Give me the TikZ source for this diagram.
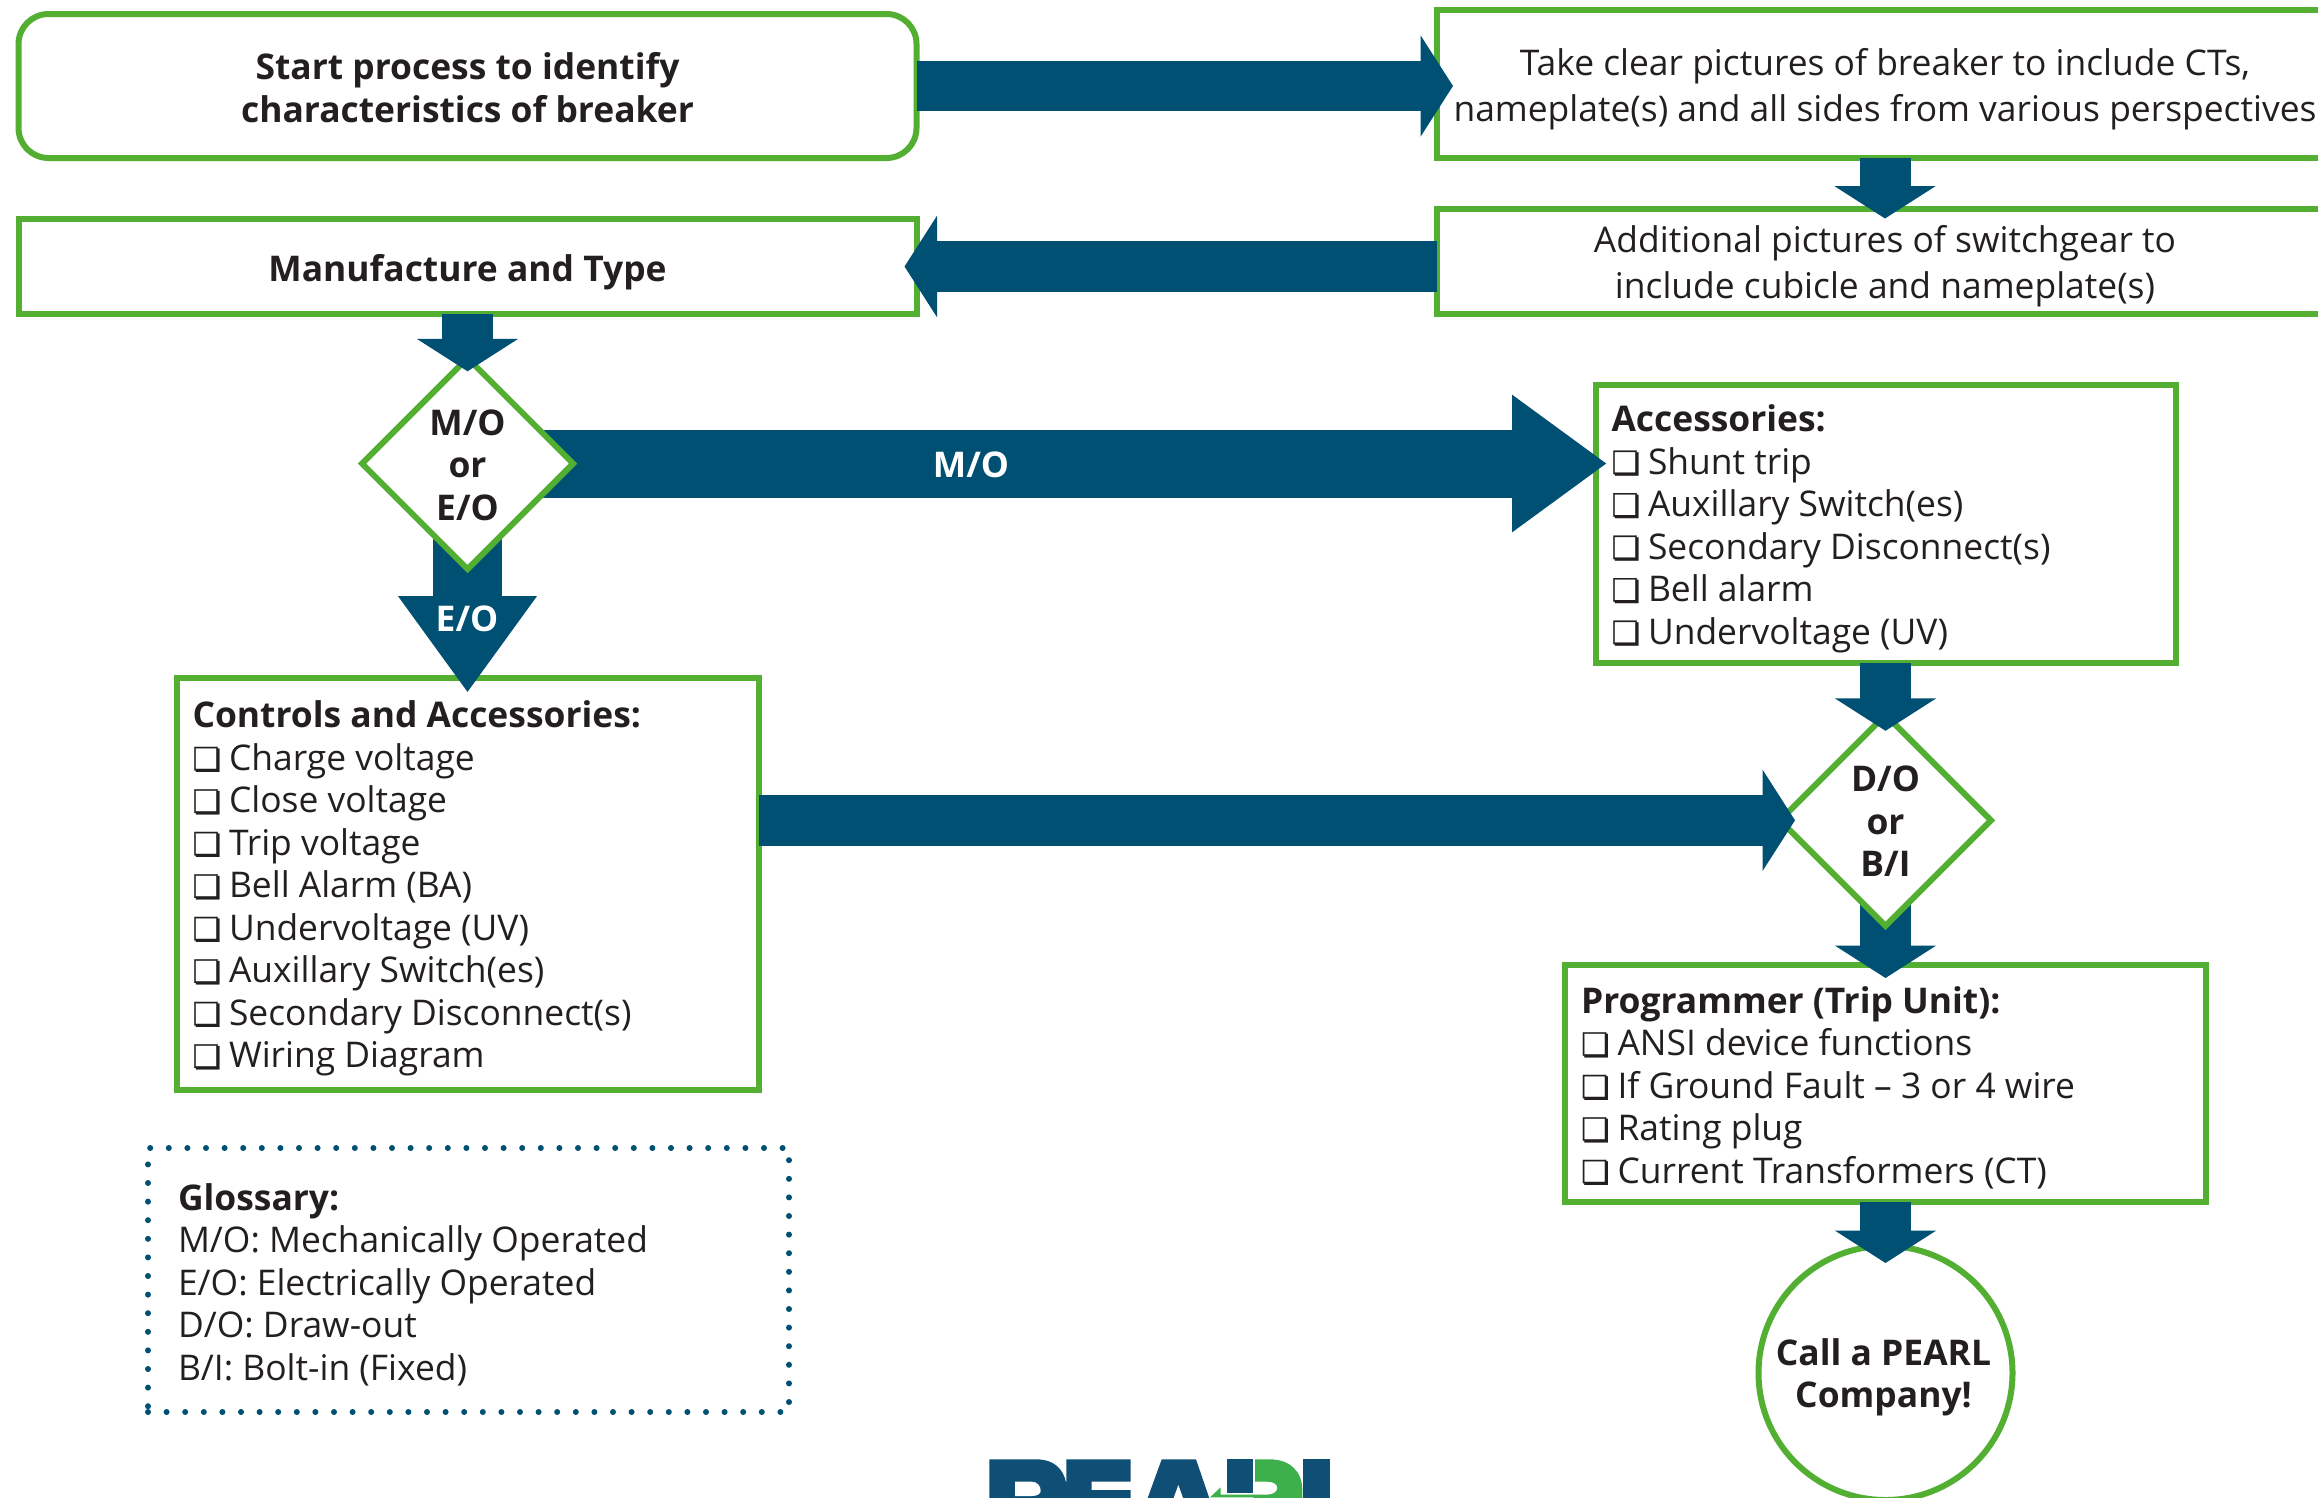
\documentclass[tikz,border=0pt]{standalone}
\usepackage{fontspec}
\setmainfont{Open Sans}
\newfontfamily\symfont[FakeBold=0.8]{DejaVu Sans}
\usetikzlibrary{shapes.geometric,arrows.meta,calc}
\definecolor{pgreen}{HTML}{53AF32}
\definecolor{pblue}{HTML}{005073}
\definecolor{logoblue}{HTML}{104F75}
\definecolor{logogreen}{HTML}{3DAF4B}
\definecolor{ink}{HTML}{231F20}
\newcommand{\cb}[1]{\makebox[36.5pt][l]{\raisebox{0pt}{\symfont\fontsize{32pt}{32pt}\selectfont ❏}}#1}
\newcommand{\down}[1]{\rule{0pt}{#1}}
\pgfdeclarelayer{boxlayer}\pgfdeclarelayer{diamondlayer}\pgfdeclarelayer{frontlayer}
\pgfsetlayers{boxlayer,main,diamondlayer,frontlayer}
\tikzset{
  x=1pt,y=-1pt,
  txt/.style={font=\fontsize{35.4pt}{42.5pt}\selectfont,text=ink},
  boldtxt/.style={font=\fontsize{35.4pt}{42.4pt}\selectfont\bfseries},
  widetxt/.style={font=\fontsize{35.4pt}{45.8pt}\selectfont},
  flowbox/.style={txt,draw=pgreen,line width=6pt,fill=white,outer sep=0pt,inner sep=0pt,align=center},
  listbox/.style={flowbox,align=flush left},
  decision/.style={flowbox,boldtxt,diamond,aspect=1,minimum width=211pt,minimum height=211pt},
  barrow/.style={pblue,line width=50.5pt,-{Triangle[length=32.5pt 0 0,width=100pt 0 0]}},
  vsmall/.style={pblue,line width=51pt,-{Triangle[length=32.5pt 0 0,width=100pt 0 0]}},
  bigv/.style={pblue,line width=69pt,-{Triangle[length=96.5pt 0 0,width=132pt 0 0]}},
  bigh/.style={pblue,line width=68pt,-{Triangle[length=95pt 0 0,width=131pt 0 0]}},
  onarrow/.style={boldtxt,text=white,inner sep=0pt},
}
\begin{document}
\begin{tikzpicture}
\clip (0,0) rectangle (2318,1497);
\begin{pgfonlayer}{boxlayer}
\fill[white] (0,0) rectangle (2318,1497);
\node[flowbox,boldtxt,rounded corners=30pt,minimum width=898pt,minimum height=144pt] (start) at (467.5,86) {\down{30pt}Start process to identify\\characteristics of breaker};
\node[flowbox,widetxt,minimum width=896pt,minimum height=148pt] (take) at (1885,84) {\down{37pt}Take clear pictures of breaker to include CTs,\\nameplate(s) and all sides from various perspectives};
\node[flowbox,widetxt,minimum width=896pt,minimum height=105pt] (add) at (1885,261) {\down{38pt}Additional pictures of switchgear to\\include cubicle and nameplate(s)};
\node[flowbox,boldtxt,minimum width=898pt,minimum height=95pt] (manu) at (467.5,266.5) {\down{38pt}Manufacture and Type};
\node[listbox,minimum height=412pt,minimum width=582pt,text width=550pt] (controls) at (467.5,884) {\down{36pt}\textbf{Controls and Accessories:}\\\cb{Charge voltage}\\\cb{Close voltage}\\\cb{Trip voltage}\\\cb{Bell Alarm (BA)}\\\cb{Undervoltage (UV)}\\\cb{Auxillary Switch(es)}\\\cb{Secondary Disconnect(s)}\\\cb{Wiring Diagram}};
\node[listbox,minimum height=278pt,minimum width=580pt,text width=548pt] (acc) at (1885.5,524) {\down{36pt}\textbf{Accessories:}\\\cb{Shunt trip}\\\cb{Auxillary Switch(es)}\\\cb{Secondary Disconnect(s)}\\\cb{Bell alarm}\\\cb{Undervoltage (UV)}};
\node[listbox,minimum height=237pt,minimum width=641pt,text width=609pt] (prog) at (1885.5,1083.5) {\down{35pt}\textbf{Programmer (Trip Unit):}\\\cb{ANSI device functions}\\\cb{If Ground Fault – 3 or 4 wire}\\\cb{Rating plug}\\\cb{Current Transformers (CT)}};
\node[flowbox,boldtxt,circle,minimum size=254pt] (call) at (1885.5,1373) {\down{36pt}Call a PEARL\kern4pt\\Company!\kern4pt};
\node[txt,draw=pblue,line width=6pt,dash pattern=on 0pt off 18.6pt,line cap=round,outer sep=0pt,inner sep=0pt,minimum width=641pt,minimum height=264pt,text width=581pt,align=flush left] (gloss) at (468.5,1280) {\down{36pt}\textbf{Glossary:}\\M/O: Mechanically Operated\\E/O: Electrically Operated\\D/O: Draw-out\\B/I: Bolt-in (Fixed)};
\end{pgfonlayer}
\begin{pgfonlayer}{diamondlayer}
\node[decision] (mo) at (467.5,463.5) {\down{29pt}M/O\\or\\E/O};
\node[decision] (do) at (1885.5,820.3) {\down{28pt}D/O\\or\\B/I};
\end{pgfonlayer}
% connectors leaving a decision run beneath it
\draw[bigh] (mo.center) -- ([xshift=11.5pt]acc.west |- mo.center);
\draw[bigv] (mo.center) -- ([yshift=-14.7pt]controls.north);
\draw[vsmall] (do.center) -- ([yshift=-13pt]do.center |- prog.north);
\begin{pgfonlayer}{frontlayer}
\draw[barrow] (start.east) -- ([xshift=16pt]take.west |- start.east);
\draw[vsmall] (take.south) -- ([yshift=-10pt]add.north);
\draw[barrow] (add.west |- manu.east) -- ([xshift=-12pt]manu.east);
\draw[vsmall] (manu.south) -- ([yshift=-13.3pt]mo.north);
\draw[barrow] (controls.east |- do.west) -- ([xshift=15pt]do.west);
\draw[vsmall] (acc.south) -- ([yshift=-16pt]do.north);
\draw[vsmall] (prog.south) -- ([yshift=-17pt]call.north);
\node[onarrow] (molabel) at (971,464.5) {M/O};
\node[onarrow] (eolabel) at (467,618.5) {E/O};
\end{pgfonlayer}
% logo, cut by the lower page edge
\begin{scope}[shift={(900,1400)},xscale=1/3,yscale=1/3]
\fill[logoblue] (268,178) -- (410,178) .. controls (460,178) and (490,205) .. (499,250) -- (499,178) -- (692,178) -- (692,245) -- (575,245) -- (575,270) -- (692,270) -- (692,330) -- (268,330) -- cycle;
\fill[white] (345,245) -- (395,245) .. controls (412,245) and (422,258) .. (422,272) .. controls (422,282) and (412,288) .. (395,288) -- (345,288) -- cycle;
\fill[logoblue] (785,178) -- (888,178) -- (940,330) -- (730,330) -- cycle;
\fill[white] (835,255) -- (862,330) -- (808,330) -- cycle;
\fill[logogreen] (1065,178) -- (1110,178) .. controls (1170,178) and (1207,215) .. (1207,270) -- (1207,330) -- (1060,330) -- (1060,292) -- (962,292) -- (930,292) -- (962,262) -- (962,284) -- (1100,284) .. controls (1120,284) and (1132,275) .. (1132,264) .. controls (1132,252) and (1120,245) .. (1100,245) -- (1065,245) -- cycle;
\fill[logoblue] (980,178) -- (1058,178) -- (1058,278) -- (980,278) -- cycle;
\fill[logoblue] (1210,178) -- (1290,178) -- (1290,330) -- (1210,330) -- cycle;
\end{scope}
\end{tikzpicture}
\end{document}
